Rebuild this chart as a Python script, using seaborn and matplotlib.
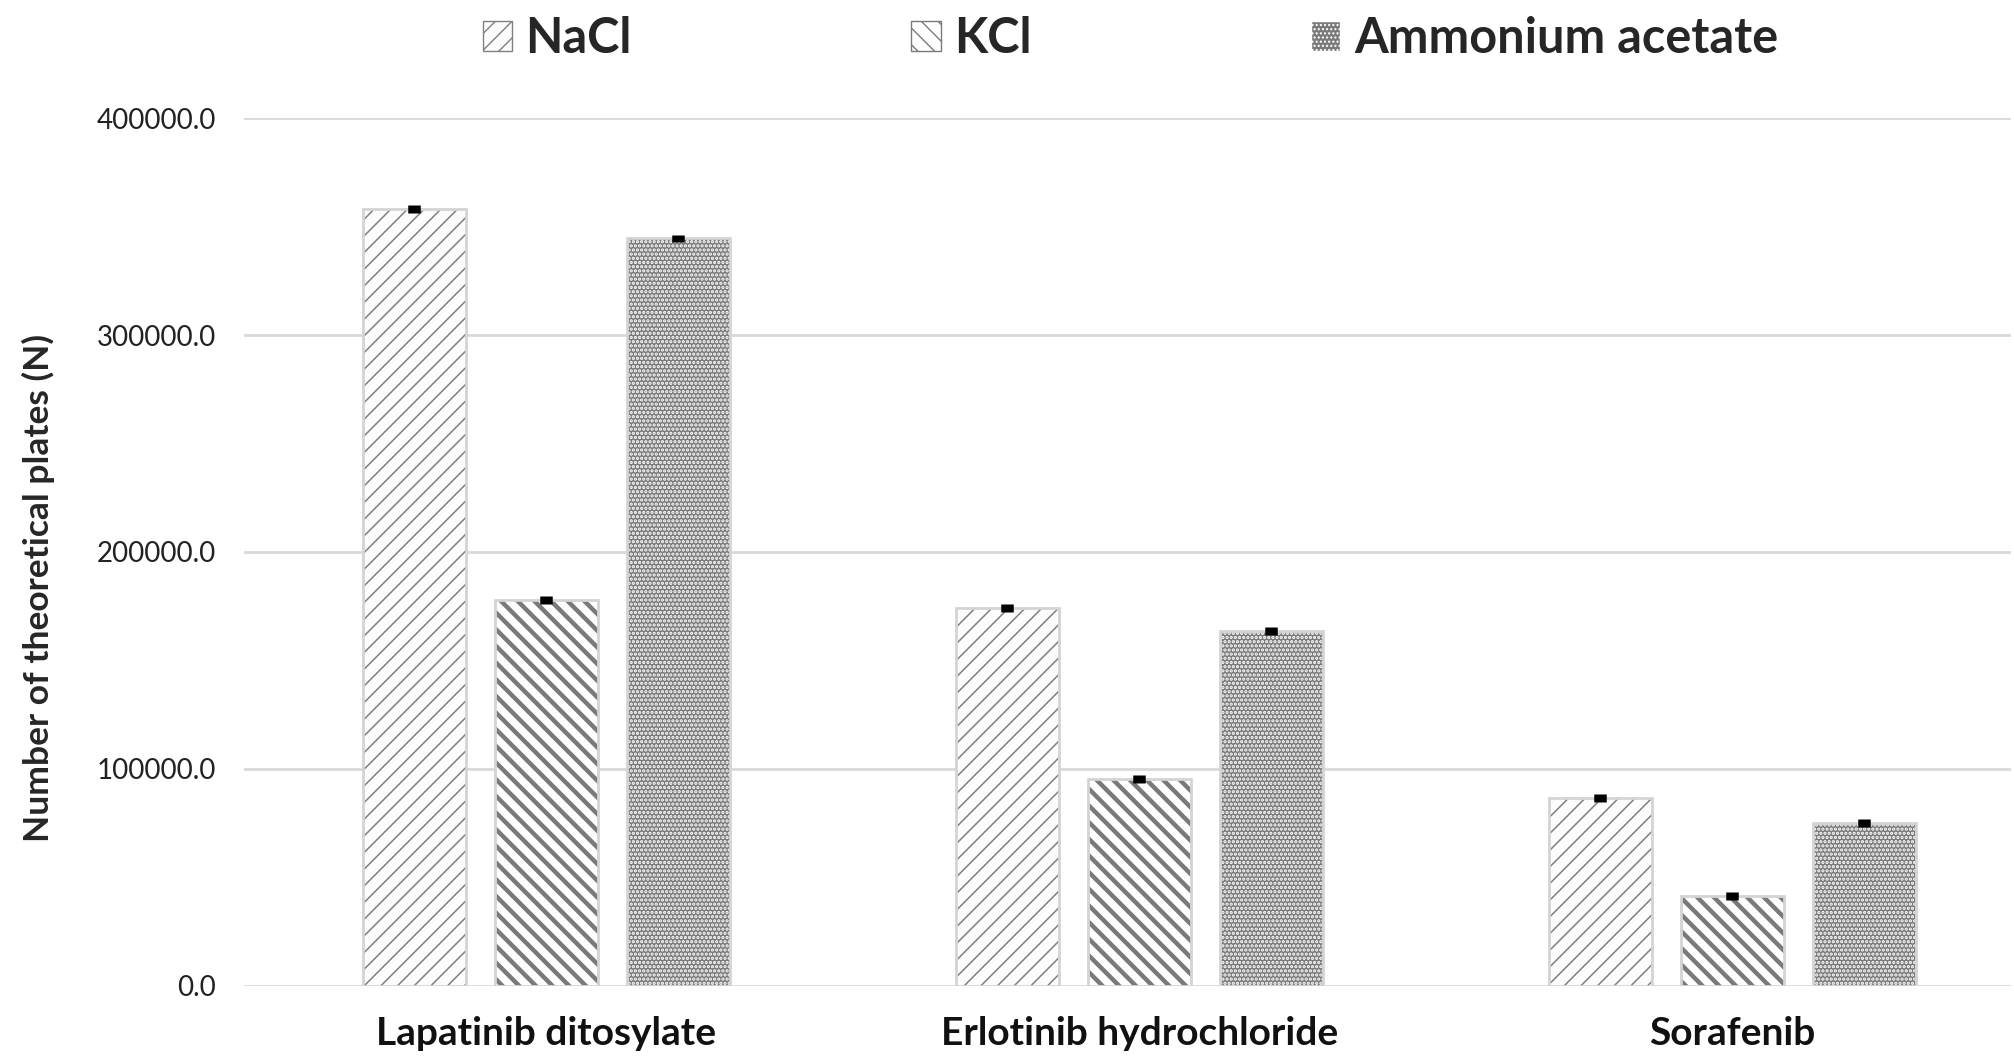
import numpy as np
import pandas as pd
import matplotlib
matplotlib.use("Agg")
import matplotlib.pyplot as plt
import seaborn as sns
from matplotlib.patches import Patch, Rectangle

# values
drugs = ["Lapatinib ditosylate", "Erlotinib hydrochloride", "Sorafenib"]
salts = ["NaCl", "KCl", "Ammonium acetate"]
nacl = [358000, 174000, 86500]
kcl = [178000, 95500, 41500]
amm_acetate = [344500, 163500, 75000]
nacl_err = [1800, 1800, 1800]
kcl_err = [1800, 1800, 1800]
amm_err = [1800, 1800, 1800]
y_ticks = [0, 100000, 200000, 300000, 400000]

df = pd.DataFrame({
    "drug": drugs * 3,
    "salt": [s for s in salts for _ in drugs],
    "N": nacl + kcl + amm_acetate,
})
errs = [nacl_err, kcl_err, amm_err]

sns.set_style("white")
plt.rcParams["font.family"] = ["Lato", "DejaVu Sans"]
plt.rcParams["hatch.linewidth"] = 1.0

# bar looks per salt
faces = ["#fcfcfc", "#ffffff", "#7a7a7a"]
hatches = ["//", "\\\\", "...."]
hatch_cols = ["#808080", "#7a7a7a", "#ffffff"]
hatch_lws = [1.1, 3.2, 1.6]

fig = plt.figure(figsize=(20.15, 10.64), dpi=100)
ax = fig.add_axes([0.121, 0.0735, 0.877, 0.8155])

sns.barplot(data=df, x="drug", y="N", hue="salt", order=drugs, hue_order=salts,
            width=0.667, gap=0.22, errorbar=None, legend=False, ax=ax)

bar_groups = list(ax.containers)
for i, cont in enumerate(bar_groups):
    for bar in cont:
        bar.set_facecolor(faces[i])
        bar.set_hatch(hatches[i])
        bar.set_edgecolor(hatch_cols[i])
        bar.set_linewidth(0)
        if hasattr(bar, "_hatch_linewidth"):
            bar._hatch_linewidth = hatch_lws[i]
        # light grey outline like the original
        ax.add_patch(Rectangle(bar.get_xy(), bar.get_width(), bar.get_height(),
                               fill=False, edgecolor="#d4d4d4", linewidth=2, zorder=3))
    xs = [b.get_x() + b.get_width() / 2 for b in cont]
    ys = [b.get_height() for b in cont]
    ax.errorbar(xs, ys, yerr=errs[i], fmt="none", ecolor="black",
                elinewidth=9, capsize=0, zorder=5)

ax.set_ylim(0, 400000)
ax.set_xlim(-0.51, 2.47)
ax.set_yticks(y_ticks)
ax.set_yticklabels([f"{v:.1f}" for v in y_ticks], fontsize=20, color="#222222")
ax.set_xticks(range(len(drugs)))
ax.set_xticklabels(drugs, fontsize=28, fontweight="bold", color="#111111")
ax.tick_params(axis="y", length=0, pad=20)
ax.tick_params(axis="x", length=0, pad=22)
ax.yaxis.grid(True, color="#d9d9d9", linewidth=2)
ax.set_axisbelow(True)
for s in ax.spines.values():
    s.set_visible(False)
ax.set_xlabel("")
ax.set_ylabel("Number of theoretical plates (N)", fontsize=25.5, fontweight="bold")
ax.yaxis.set_label_coords(-0.107, 0.458)

handles = [Patch(facecolor=faces[i], edgecolor=hatch_cols[i], hatch=hatches[i], label=salts[i])
           for i in range(3)]
fig.legend(handles=handles, loc="upper center", bbox_to_anchor=(0.561, 1.026), ncol=3,
           frameon=False, prop={"size": 35, "weight": "bold"}, columnspacing=5.75,
           handlelength=0.6, handleheight=0.6, handletextpad=0.28)

fig.savefig("out.png", dpi=100)
